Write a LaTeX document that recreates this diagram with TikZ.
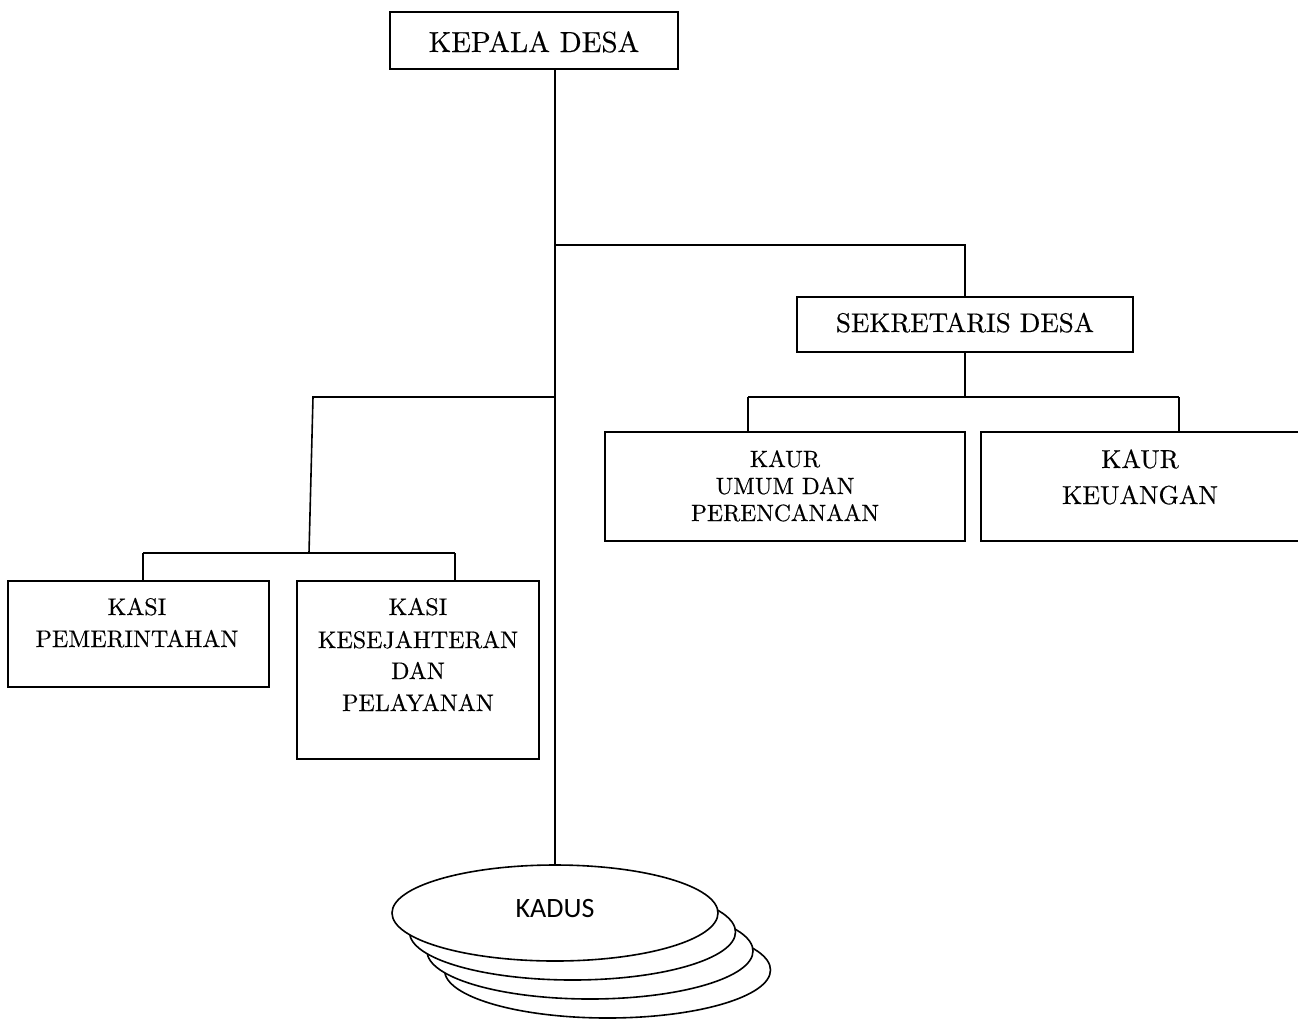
\documentclass[tikz,border=0pt]{standalone}
\usepackage{fontspec}
\setmainfont{lmroman10-regular.otf}[FakeBold=0.4]
\newfontfamily\kadusfont{Carlito}
\usetikzlibrary{shapes.geometric}
\tikzset{
  box/.style={draw, line width=1.6pt, rectangle, inner sep=0pt},
  link/.style={line width=1.6pt},
  disk/.style={draw, line width=1.6pt, ellipse, fill=white, minimum width=326pt, minimum height=96pt, inner sep=0pt},
  big/.style={anchor=base, inner sep=0pt, font=\fontsize{29}{32}\selectfont},
  small/.style={anchor=base, inner sep=0pt, font=\fontsize{24}{28}\selectfont},
}
\begin{document}
\begin{tikzpicture}[x=1pt,y=-1pt]
\useasboundingbox (0,0) rectangle (1298,1018);
\clip (0,0) rectangle (1298,1018);
% boxes
\node[box, minimum width=288pt, minimum height=57pt] (kp) at (534,40.5) {};
\node[box, minimum width=336pt, minimum height=55pt] (sek) at (965,324.5) {};
\node[box, minimum width=360pt, minimum height=109pt] (kum) at (785,486.5) {};
\node[box, minimum width=330pt, minimum height=109pt] (keu) at (1146,486.5) {};
\node[box, minimum width=261pt, minimum height=106pt] (kpem) at (138.5,634) {};
\node[box, minimum width=242pt, minimum height=178pt] (kes) at (418,670) {};
% kadus stack
\node[disk] (d3) at (607.5,970) {};
\node[disk] (d2) at (590,951) {};
\node[disk] (d1) at (572.5,932) {};
\node[disk] (kadus) at (555,913) {};
% texts
\node[big] at (534,52) {KEPALA DESA};
\node[big, font=\fontsize{27}{32}\selectfont] at (965,332) {SEKRETARIS DESA};
\node[small, font=\fontsize{23.5}{28}\selectfont] at (785,467) {KAUR};
\node[small, font=\fontsize{23.5}{28}\selectfont] at (785,494) {UMUM DAN};
\node[small, font=\fontsize{23.5}{28}\selectfont] at (785,521) {PERENCANAAN};
\node[small, font=\fontsize{26}{30}\selectfont] at (1140,468) {KAUR};
\node[small, font=\fontsize{26}{30}\selectfont] at (1140,504) {KEUANGAN};
\node[small] at (137,615) {KASI};
\node[small] at (137,647) {PEMERINTAHAN};
\node[small] at (418,615) {KASI};
\node[small] at (418,648) {KESEJAHTERAN};
\node[small] at (418,679) {DAN};
\node[small] at (418,711) {PELAYANAN};
\node[anchor=base, inner sep=0pt, font=\kadusfont\fontsize{28}{30}\selectfont] at (555,917) {KADUS};
% connectors
\coordinate (t0) at (555,69);
\coordinate (j1) at (555,245);
\coordinate (j2) at (555,397);
\coordinate (k1) at (313,397);
\coordinate (k2) at (309,553);
\coordinate (b1) at (143,553);
\coordinate (b2) at (455,553);
\coordinate (r1) at (748,397);
\coordinate (r2) at (1179,397);
\draw[link] (t0) -- (kadus.north);
\draw[link] (j1) -| (sek.north);
\draw[link] (j2) -- (k1) -- (k2);
\draw[link] (b1) -- (b2);
\draw[link] (b1) -- (b1 |- kpem.north);
\draw[link] (b2) -- (b2 |- kes.north);
\draw[link] (sek.south) -- (sek.south |- r1);
\draw[link] (r1) -- (r2);
\draw[link] (r1) -- (r1 |- kum.north);
\draw[link] (r2) -- (r2 |- keu.north);
\end{tikzpicture}
\end{document}
